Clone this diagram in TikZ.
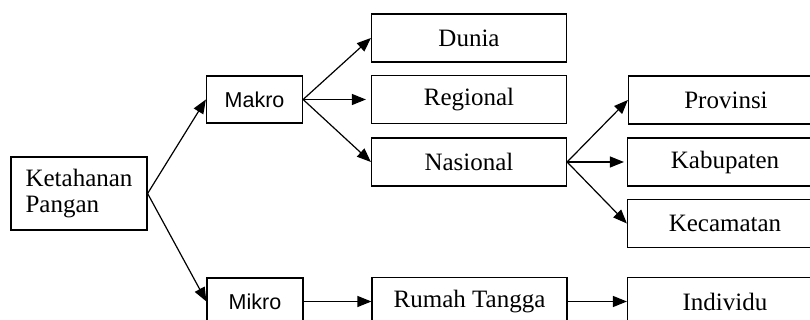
\documentclass[tikz,border=0pt]{standalone}
\usepackage{fontspec}
\setmainfont{Liberation Serif}
\newfontfamily\levelfont{Liberation Sans}
\usetikzlibrary{arrows.meta,positioning}

\begin{document}
\begin{tikzpicture}[x=1pt,y=1pt,
  box/.style={draw, line width=1.2pt, minimum width=195pt, minimum height=48pt, inner sep=0pt, font=\fontsize{25}{26}\selectfont},
  levelbox/.style={box, minimum width=96pt, minimum height=47pt, font=\levelfont\fontsize{21.5}{24}\selectfont},
  arrow/.style={-{Triangle[length=14pt,width=11pt]}, line width=1.2pt}]
\useasboundingbox (0,0) rectangle (810,320);
\clip (0,0) rectangle (810,320);
% root
\node[box, minimum width=136pt, minimum height=73pt, align=left] (ketahanan) at (79,126.5) {Ketahanan\\Pangan};
% levels
\node[levelbox] (makro) at (254.5,220.5) {Makro};
\node[levelbox] (mikro) at (255,18.5) {Mikro};
% makro branch
\node[box] (dunia) at (469,282) {Dunia};
\node[box] (regional) at (469,220.5) {Regional};
\node[box] (nasional) at (469,158) {Nasional};
% nasional branch
\node[box] (provinsi) at (726,220) {Provinsi};
\node[box] (kabupaten) at (725,158) {Kabupaten};
\node[box] (kecamatan) at (725,96.5) {Kecamatan};
% mikro branch
\node[box] (rumah) at (469.5,18.5) {Rumah Tangga};
\node[box] (individu) at (725,18.5) {Individu};
% arrows
\draw[arrow] (ketahanan.east) -- (makro.west);
\draw[arrow] (ketahanan.east) -- (mikro.west);
\draw[arrow] (makro.east) -- (dunia.west);
\draw[arrow, shorten >=5pt] (makro.east) -- (regional.west);
\draw[arrow] (makro.east) -- (nasional.west);
\draw[arrow] (nasional.east) -- (provinsi.west);
\draw[arrow, shorten >=3pt] (nasional.east) -- (kabupaten.west);
\draw[arrow] (nasional.east) -- (kecamatan.west);
\draw[arrow] (mikro.east) -- (rumah.west);
\draw[arrow] (rumah.east) -- (individu.west);
\end{tikzpicture}
\end{document}
